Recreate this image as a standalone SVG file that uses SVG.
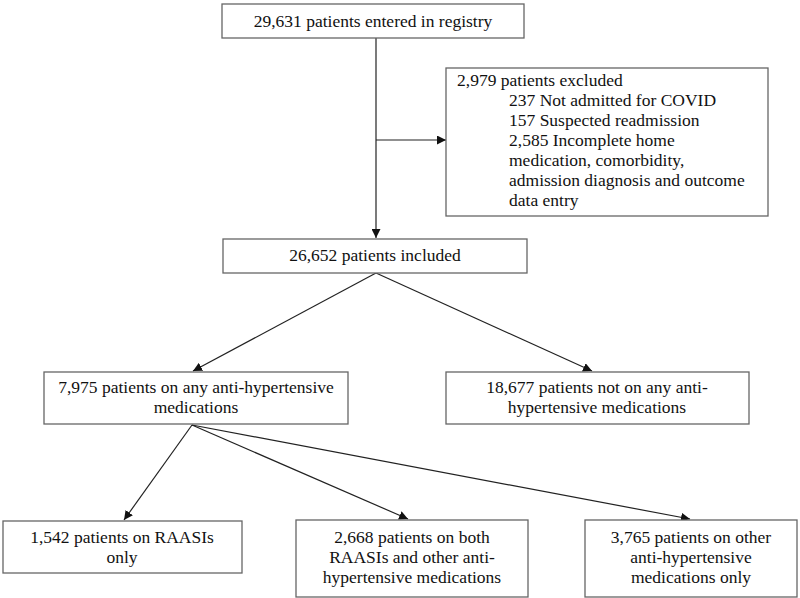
<svg xmlns="http://www.w3.org/2000/svg" width="800" height="598" viewBox="0 0 800 598">
<defs>
<marker id="ah" viewBox="0 0 10 10" refX="10" refY="5" markerWidth="9" markerHeight="9" markerUnits="userSpaceOnUse" orient="auto">
<path d="M0,0 L10,5 L0,10 z" fill="#111"/>
</marker>
<style>
.box{fill:#fff;stroke:#666;stroke-width:1.3}
.t{font-family:"Liberation Serif","Times New Roman",serif;font-size:17.5px;fill:#111}
.c{text-anchor:middle}
.ln{stroke:#222;stroke-width:1.2;fill:none;marker-end:url(#ah)}
</style>
</defs>
<rect width="800" height="598" fill="#fff"/>
<g id="connectors">
<line class="ln" x1="376" y1="38" x2="376" y2="238"/>
<line class="ln" x1="376" y1="140" x2="446" y2="140"/>
<line class="ln" x1="376" y1="273" x2="193" y2="371"/>
<line class="ln" x1="376" y1="273" x2="592" y2="371"/>
<line class="ln" x1="192" y1="425" x2="124" y2="520"/>
<line class="ln" x1="192" y1="425" x2="408" y2="519"/>
<line class="ln" x1="192" y1="425" x2="690" y2="519"/>
</g>
<g id="registry">
<rect class="box" x="222" y="4" width="302" height="34"/>
<text class="t c" x="373" y="27">29,631 patients entered in registry</text>
</g>
<g id="excluded">
<rect class="box" x="446" y="68" width="322" height="148"/>
<text class="t" x="457" y="86">2,979 patients excluded</text>
<text class="t" x="509" y="106">237 Not admitted for COVID</text>
<text class="t" x="509" y="126">157 Suspected readmission</text>
<text class="t" x="509" y="146">2,585 Incomplete home</text>
<text class="t" x="509" y="166">medication, comorbidity,</text>
<text class="t" x="509" y="186">admission diagnosis and outcome</text>
<text class="t" x="509" y="206">data entry</text>
</g>
<g id="included">
<rect class="box" x="223" y="239" width="304" height="34"/>
<text class="t c" x="375" y="261">26,652 patients included</text>
</g>
<g id="anti">
<rect class="box" x="44" y="372" width="304" height="52"/>
<text class="t c" x="196" y="393">7,975 patients on any anti-hypertensive</text>
<text class="t c" x="196" y="413">medications</text>
</g>
<g id="noanti">
<rect class="box" x="446" y="372" width="303" height="52"/>
<text class="t c" x="597" y="393">18,677 patients not on any anti-</text>
<text class="t c" x="597" y="413">hypertensive medications</text>
</g>
<g id="raasi">
<rect class="box" x="3" y="521" width="239" height="52"/>
<text class="t c" x="122" y="543">1,542 patients on RAASIs</text>
<text class="t c" x="122" y="563">only</text>
</g>
<g id="both">
<rect class="box" x="296" y="520" width="232" height="77"/>
<text class="t c" x="412" y="543">2,668 patients on both</text>
<text class="t c" x="412" y="563">RAASIs and other anti-</text>
<text class="t c" x="412" y="583">hypertensive medications</text>
</g>
<g id="other">
<rect class="box" x="585" y="520" width="212" height="77"/>
<text class="t c" x="691" y="543">3,765 patients on other</text>
<text class="t c" x="691" y="563">anti-hypertensive</text>
<text class="t c" x="691" y="583">medications only</text>
</g>
</svg>
